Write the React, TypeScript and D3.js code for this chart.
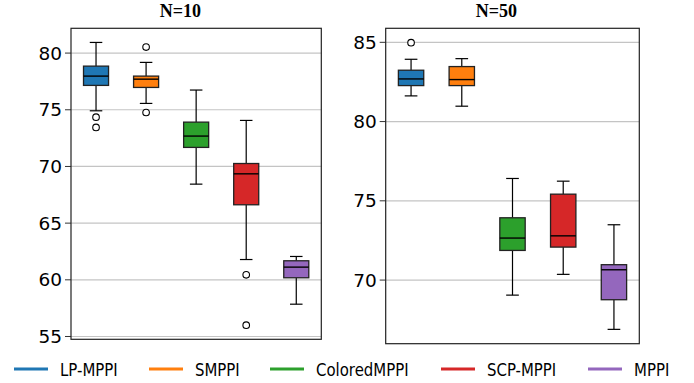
import React from "react";
import * as d3 from "d3";

const methods = ["LP-MPPI", "SMPPI", "ColoredMPPI", "SCP-MPPI", "MPPI"];
const colors = ["#1f77b4", "#ff7f0e", "#2ca02c", "#d62728", "#9467bd"];

// N=10 panel
const n10Low = [74.91, 75.56, 68.44, 61.79, 57.85];
const n10Q1 = [77.15, 76.97, 71.68, 66.62, 60.18];
const n10Median = [77.97, 77.7, 72.68, 69.35, 61.12];
const n10Q3 = [78.85, 77.97, 73.91, 70.26, 61.68];
const n10High = [80.94, 79.18, 76.74, 74.06, 62.06];
const n10Outliers = [[74.35, 73.44], [80.53, 74.76], [], [60.44, 56.0], []];
const n10Ticks = [55, 60, 65, 70, 75, 80];

// N=50 panel
const n50Low = [81.62, 80.97, 69.05, 70.36, 66.89];
const n50Q1 = [82.27, 82.27, 71.87, 72.08, 68.76];
const n50Median = [82.69, 82.65, 72.65, 72.79, 70.65];
const n50Q3 = [83.24, 83.47, 73.93, 75.42, 70.97];
const n50High = [83.93, 83.97, 76.41, 76.24, 73.49];
const n50Outliers = [[84.98], [], [], [], []];
const n50Ticks = [70, 75, 80, 85];

type PanelProps = {
  title: string;
  x0: number;
  x1: number;
  y0: number;
  y1: number;
  titleX: number;
  low: number[];
  q1: number[];
  med: number[];
  q3: number[];
  high: number[];
  outliers: number[][];
  ticks: number[];
};

function Panel(p: PanelProps) {
  const all = [...p.low, ...p.high, ...p.outliers.flat()];
  const mn = d3.min(all)!;
  const mx = d3.max(all)!;
  const pad = (mx - mn) * 0.05;
  const y = d3.scaleLinear().domain([mn - pad, mx + pad]).range([p.y1, p.y0]);
  const x = d3.scaleLinear().domain([0.5, methods.length + 0.5]).range([p.x0, p.x1]);
  const unit = x(1) - x(0);
  const bw = unit * 0.5;
  const cw = bw * 0.5;
  return (
    <g>
      <text
        x={p.titleX}
        y={p.y0 - 11}
        textAnchor="middle"
        fontFamily="'Liberation Serif', 'Times New Roman', serif"
        fontWeight="bold"
        fontSize={18}
        fill="#000"
      >
        {p.title}
      </text>
      {p.ticks.map((t) => (
        <g key={t}>
          <line x1={p.x0} x2={p.x1} y1={y(t)} y2={y(t)} stroke="#c4c4c4" strokeWidth={1.2} />
          <line x1={p.x0 - 6} x2={p.x0} y1={y(t)} y2={y(t)} stroke="#333" strokeWidth={1} />
          <text
            x={p.x0 - 9}
            y={y(t)}
            dy="0.36em"
            textAnchor="end"
            fontFamily="'DejaVu Sans', sans-serif"
            fontSize={18.5}
            fill="#000"
          >
            {t}
          </text>
        </g>
      ))}
      {methods.map((m, i) => {
        const cx = x(i + 1);
        return (
          <g key={m}>
            <line x1={cx} x2={cx} y1={y(p.q3[i])} y2={y(p.high[i])} stroke="#000" strokeWidth={1.2} />
            <line x1={cx} x2={cx} y1={y(p.q1[i])} y2={y(p.low[i])} stroke="#000" strokeWidth={1.2} />
            <line x1={cx - cw / 2} x2={cx + cw / 2} y1={y(p.high[i])} y2={y(p.high[i])} stroke="#000" strokeWidth={1.2} />
            <line x1={cx - cw / 2} x2={cx + cw / 2} y1={y(p.low[i])} y2={y(p.low[i])} stroke="#000" strokeWidth={1.2} />
            <rect
              x={cx - bw / 2}
              y={y(p.q3[i])}
              width={bw}
              height={y(p.q1[i]) - y(p.q3[i])}
              fill={colors[i]}
              stroke="#222"
              strokeWidth={1.3}
            />
            <line x1={cx - bw / 2} x2={cx + bw / 2} y1={y(p.med[i])} y2={y(p.med[i])} stroke="#000" strokeWidth={1.4} />
            {p.outliers[i].map((o, j) => (
              <circle key={j} cx={cx} cy={y(o)} r={3.3} fill="#fff" stroke="#000" strokeWidth={1.1} />
            ))}
          </g>
        );
      })}
      <rect x={p.x0} y={p.y0} width={p.x1 - p.x0} height={p.y1 - p.y0} fill="none" stroke="#222" strokeWidth={1.2} />
    </g>
  );
}

const legendLineX = [14, 149, 270, 441, 588];

export default function App() {
  return (
    <svg
      width={694}
      height={383}
      style={{ position: "absolute", left: 0, top: 0, background: "#fff" }}
    >
      <rect width={694} height={383} fill="#fff" />
      <Panel
        title="N=10"
        x0={71}
        x1={321.3}
        y0={28.3}
        y1={339.3}
        titleX={180.3}
        low={n10Low}
        q1={n10Q1}
        med={n10Median}
        q3={n10Q3}
        high={n10High}
        outliers={n10Outliers}
        ticks={n10Ticks}
      />
      <Panel
        title="N=50"
        x0={385.7}
        x1={639.3}
        y0={28.3}
        y1={343.7}
        titleX={496.5}
        low={n50Low}
        q1={n50Q1}
        med={n50Median}
        q3={n50Q3}
        high={n50High}
        outliers={n50Outliers}
        ticks={n50Ticks}
      />
      {methods.map((m, i) => (
        <g key={m} transform={`translate(${legendLineX[i]},369)`}>
          <line x1={0} x2={34} y1={0} y2={0} stroke={colors[i]} strokeWidth={3} />
          <text
            x={46}
            y={7}
            transform="translate(46,0) scale(0.83,1) translate(-46,0)"
            fontFamily="'DejaVu Sans', sans-serif"
            fontSize={18}
            fill="#000"
          >
            {m}
          </text>
        </g>
      ))}
    </svg>
  );
}
